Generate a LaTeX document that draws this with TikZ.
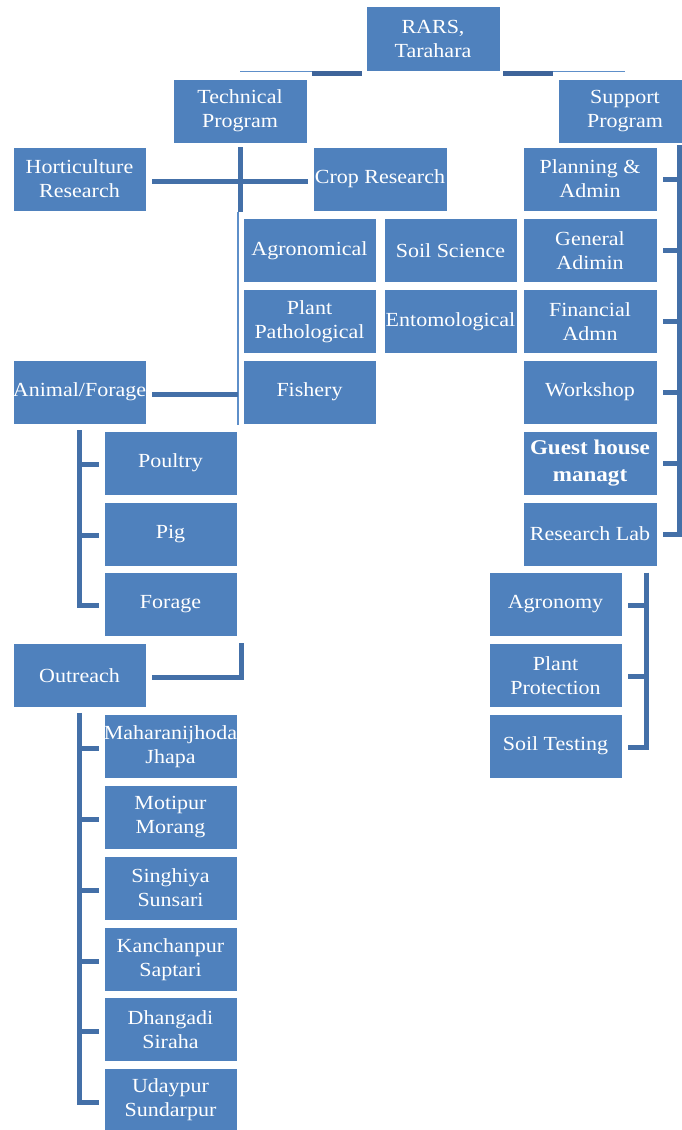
\documentclass[tikz,border=0pt]{standalone}
\usepackage{fontspec}
\setmainfont[FakeStretch=1.1]{Liberation Serif}
\usetikzlibrary{calc}
\definecolor{boxblue}{HTML}{4F81BD}
\definecolor{barblue}{HTML}{4470A8}
\definecolor{thinblue}{HTML}{5E8FC9}
\definecolor{darkband}{HTML}{3E649A}
\tikzset{
  orgbox/.style={rectangle, fill=boxblue, draw=white, line width=0.6pt, text=white,
    inner sep=0pt, minimum width=133pt, minimum height=64pt, align=center,
    font=\fontsize{20}{24}\selectfont},
  boldbox/.style={orgbox, font=\fontsize{21}{27}\selectfont\bfseries},
  bar/.style={draw=barblue, line width=5pt},
  thinline/.style={draw=thinblue, line width=1.3pt},
}
\begin{document}
\begin{tikzpicture}[x=1pt,y=-1pt]
\useasboundingbox (0,0) rectangle (681,1130);
\fill[white] (0,0) rectangle (681,1130);

% top level
\node[orgbox, minimum width=134pt, minimum height=65pt] (rars) at (433,38.5) {RARS,\\Tarahara};
\node[orgbox, minimum width=134pt] (tech) at (240,111) {Technical\\Program};
\node[orgbox, minimum width=134pt] (supp) at (625,111) {Support\\Program};

% technical
\node[orgbox] (hort) at (79.5,179) {Horticulture\\Research};
\node[orgbox, minimum width=134pt] (crop) at (380,179) {Crop Research};
\node[orgbox] (agro) at (309.5,250.5) {Agronomical};
\node[orgbox] (soil) at (450.5,250.5) {Soil Science};
\node[orgbox] (path) at (309.5,321.5) {Plant\\Pathological};
\node[orgbox] (ento) at (450.5,321.5) {Entomological};
\node[orgbox] (fish) at (309.5,392) {Fishery};
\node[orgbox] (anim) at (79.5,392) {Animal/Forage};
\node[orgbox] (poul) at (170.5,463) {Poultry};
\node[orgbox] (pig) at (170.5,534) {Pig};
\node[orgbox] (forage) at (170.5,604.5) {Forage};
\node[orgbox] (outr) at (79.5,675.5) {Outreach};
\node[orgbox] (mah) at (170.5,746.5) {Maharanijhoda\\Jhapa};
\node[orgbox] (moti) at (170.5,817.5) {Motipur\\Morang};
\node[orgbox] (sing) at (170.5,888) {Singhiya\\Sunsari};
\node[orgbox] (kanc) at (170.5,959.5) {Kanchanpur\\Saptari};
\node[orgbox] (dhan) at (170.5,1029.5) {Dhangadi\\Siraha};
\node[orgbox] (uday) at (170.5,1100) {Udaypur\\Sundarpur};

% support
\node[orgbox, minimum width=134pt] (plan) at (590,179) {Planning \&\\Admin};
\node[orgbox, minimum width=134pt] (gen) at (590,250.5) {General\\Adimin};
\node[orgbox, minimum width=134pt] (fin) at (590,321.5) {Financial\\Admn};
\node[orgbox, minimum width=134pt] (work) at (590,392) {Workshop};
\node[boldbox, minimum width=134pt] (guest) at (590,463) {Guest house\\managt};
\node[orgbox, minimum width=134pt] (lab) at (590,534) {Research Lab};
\node[orgbox] (agron) at (555.5,604.5) {Agronomy};
\node[orgbox] (pprot) at (555.5,675.5) {Plant\\Protection};
\node[orgbox] (stest) at (555.5,746) {Soil Testing};

% top connectors
\draw[thinline] (tech.north |- rars.south) -- ($(rars.south west)+(-4,0)$);
\fill[darkband] ($(rars.south west)+(-54,0)$) rectangle ($(rars.south west)+(-4,5)$);
\draw[thinline] ($(rars.south east)+(3,0)$) -- (supp.north |- rars.south);
\fill[darkband] ($(rars.south east)+(3,0)$) rectangle ($(rars.south east)+(53,5)$);

% technical program connectors
\coordinate (tl) at ($(tech.south)+(-2,282)$);
\draw[bar] ($(tech.south)+(0,4)$) -- ($(tech.south)+(0,69)$);
\draw[thinline] ($(tech.south)+(-2,69)$) -- (tl);
\draw[bar] ($(hort.east)+(6,2)$) -- ($(crop.west)+(-5,2)$);
\draw[bar] ($(anim.east)+(6,2)$) -- ($(anim.east -| tl)+(0,2)$);
\draw[bar] ($(outr.east)+(6,2)$) -| ($(forage.south east)+(4,6)$);

% animal bracket
\draw[bar] ($(anim.south)+(0,6)$) |- ($(forage.west)+(-5,1)$);
\foreach \n in {poul,pig}
  \draw[bar] ($(anim.south |- \n.west)+(0,1)$) -- ($(\n.west)+(-5,1)$);

% outreach bracket
\draw[bar] ($(outr.south)+(0,5)$) |- ($(uday.west)+(-5,2)$);
\foreach \n in {mah,moti,sing,kanc,dhan}
  \draw[bar] ($(outr.south |- \n.west)+(0,2)$) -- ($(\n.west)+(-5,2)$);

% support bracket
\coordinate (srail) at ($(plan.east)+(22,-34)$);
\draw[bar] (srail) |- ($(lab.east)+(6,0)$);
\foreach \n in {plan,gen,fin,work,guest}
  \draw[bar] (srail |- \n.east) -- ($(\n.east)+(6,0)$);

% research lab bracket
\coordinate (lrail) at ($(agron.east)+(24,-32)$);
\draw[bar] (lrail) |- ($(stest.east)+(6,1)$);
\foreach \n in {agron,pprot}
  \draw[bar] ($(lrail |- \n.east)+(0,1)$) -- ($(\n.east)+(6,1)$);
\end{tikzpicture}
\end{document}
